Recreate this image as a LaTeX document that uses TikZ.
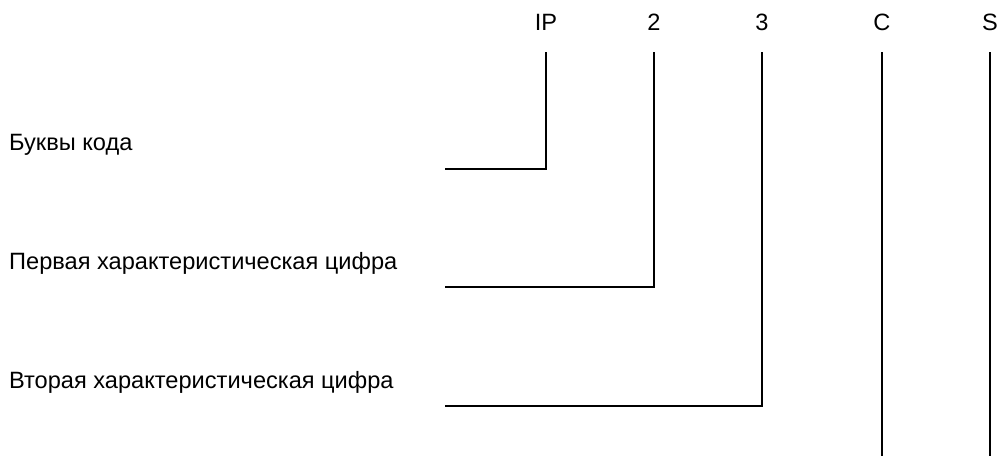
\documentclass[tikz,border=0pt]{standalone}
\usepackage{fontspec}
\setmainfont{Liberation Sans}
\begin{document}
\begin{tikzpicture}[x=1pt,y=-1pt,
  lbl/.style={inner sep=0pt,font=\fontsize{23.6}{27}\selectfont},
  codeletter/.style={lbl,anchor=base},
  desc/.style={lbl,anchor=base west},
  lead/.style={line width=2.5pt,line join=miter}]
\useasboundingbox (0,0) rectangle (1001,456);
% top code letters
\node[codeletter] (ip) at (546,30) {IP};
\node[codeletter] (d2) at (654,30) {2};
\node[codeletter] (d3) at (762,30) {3};
\node[codeletter] (c)  at (882,30) {C};
\node[codeletter] (s)  at (990,30) {S};
% descriptions
\node[desc] (t1) at (9,150) {Буквы кода};
\node[desc] (t2) at (9,269) {Первая характеристическая цифра};
\node[desc] (t3) at (9,388) {Вторая характеристическая цифра};
% line coordinates
\coordinate (ipTop) at (546,52);
\coordinate (ipCorner) at (546,169);
\coordinate (l1) at (445,169);
\coordinate (d2Top) at (654,52);
\coordinate (d2Corner) at (654,287);
\coordinate (l2) at (445,287);
\coordinate (d3Top) at (762,52);
\coordinate (d3Corner) at (762,406);
\coordinate (l3) at (445,406);
\coordinate (cTop) at (882,52);
\coordinate (cEnd) at (882,456);
\coordinate (sTop) at (990,52);
\coordinate (sEnd) at (990,456);
\draw[lead] (ipTop) -- (ipCorner) -- (l1);
\draw[lead] (d2Top) -- (d2Corner) -- (l2);
\draw[lead] (d3Top) -- (d3Corner) -- (l3);
\draw[lead] (cTop) -- (cEnd);
\draw[lead] (sTop) -- (sEnd);
\end{tikzpicture}
\end{document}
